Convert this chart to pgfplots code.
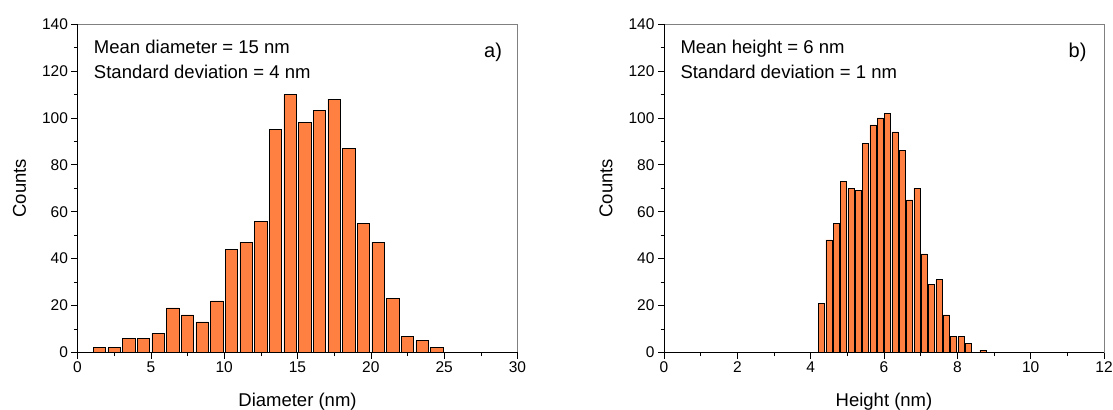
\documentclass[border=0pt]{standalone}
\usepackage{fontspec}
\setmainfont{Liberation Sans}
\usepackage{pgfplots}
\pgfplotsset{compat=1.18}
\definecolor{barorange}{RGB}{255,128,64}

\pgfplotsset{histo/.style={
    scale only axis, width=440bp, height=328.5bp, anchor=south west,
    ymin=0, ymax=140, ytick distance=20, minor y tick num=1,
    tick pos=left, tick align=outside,
    major tick length=6bp, minor tick length=3.5bp,
    tick style={black, line width=0.6bp},
    axis line style={draw=gray, line width=0.8bp},
    /pgf/number format/assume math mode=true,
    ticklabel style={font=\fontsize{15.5bp}{18bp}\selectfont},
    ylabel=Counts,
    every axis y label/.style={at={(axis description cs:-0.1318,0.5)}, rotate=90,
      anchor=center, font=\fontsize{18.5bp}{22bp}\selectfont},
    every axis x label/.style={at={(axis description cs:0.5,-0.1644)}, anchor=base,
      font=\fontsize{18.5bp}{22bp}\selectfont},
    clip=false,
  }}
\tikzset{
  note/.style={anchor=base west, font=\fontsize{18.5bp}{22bp}\selectfont},
  tag/.style={anchor=base east, font=\fontsize{20bp}{24bp}\selectfont},
}

\begin{document}
\begin{tikzpicture}
\useasboundingbox (0,0) rectangle (1113bp,410bp);

% a) diameter histogram
\begin{axis}[histo, at={(77.5bp,57.5bp)},
    xmin=0, xmax=30, xtick distance=5, minor x tick num=1,
    xlabel={Diameter (nm)}]
  \addplot[ybar, bar width=0.85, fill=barorange, draw=black, line width=0.7bp]
    coordinates {(1.5,2) (2.5,2) (3.5,6) (4.5,6) (5.5,8) (6.5,19) (7.5,16) (8.5,13)
                 (9.5,22) (10.5,44) (11.5,47) (12.5,56) (13.5,95) (14.5,110) (15.5,98)
                 (16.5,103) (17.5,108) (18.5,87) (19.5,55) (20.5,47) (21.5,23)
                 (22.5,7) (23.5,5) (24.5,2)};
  \draw[black, line width=0.8bp] (rel axis cs:0,1) -- (rel axis cs:0,0) -- (rel axis cs:1,0);
  \node[note] at (axis description cs:0.0295,0.9117) {Mean diameter = 15 nm};
  \node[note] at (axis description cs:0.0295,0.8326) {Standard deviation = 4 nm};
  \node[tag] at (axis description cs:0.9727,0.8965) {a)};
\end{axis}

% b) height histogram
\begin{axis}[histo, at={(664bp,57.5bp)},
    xmin=0, xmax=12, xtick distance=2, minor x tick num=1,
    xlabel={Height (nm)}]
  \addplot[ybar, bar width=0.17, fill=barorange, draw=black, line width=0.7bp]
    coordinates {(4.3,21) (4.5,48) (4.7,55) (4.9,73) (5.1,70) (5.3,69) (5.5,89)
                 (5.7,97) (5.9,100) (6.1,102) (6.3,94) (6.5,86) (6.7,65) (6.9,70)
                 (7.1,42) (7.3,29) (7.5,31) (7.7,16) (7.9,7) (8.1,7) (8.3,4) (8.7,1)};
  \draw[black, line width=0.8bp] (rel axis cs:0,1) -- (rel axis cs:0,0) -- (rel axis cs:1,0);
  \node[note] at (axis description cs:0.0295,0.9117) {Mean height = 6 nm};
  \node[note] at (axis description cs:0.0295,0.8326) {Standard deviation = 1 nm};
  \node[tag] at (axis description cs:0.968,0.8965) {b)};
\end{axis}
\end{tikzpicture}
\end{document}
